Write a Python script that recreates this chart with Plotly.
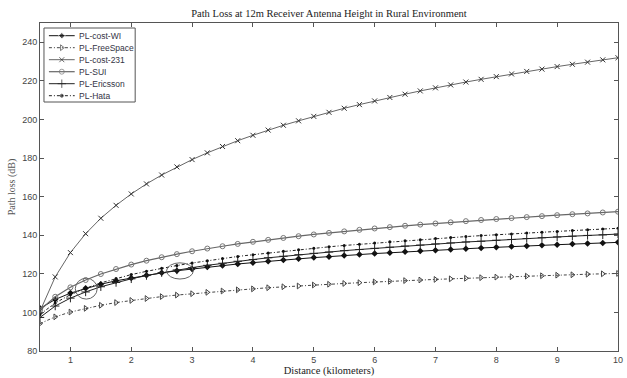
import plotly.graph_objects as go

# Distance (km)
distance = [0.5, 0.75, 1.0, 1.25, 1.5, 1.75, 2.0, 2.25, 2.5, 2.75, 3.0, 3.25, 3.5, 3.75,
            4.0, 4.25, 4.5, 4.75, 5.0, 5.25, 5.5, 5.75, 6.0, 6.25, 6.5, 6.75, 7.0, 7.25,
            7.5, 7.75, 8.0, 8.25, 8.5, 8.75, 9.0, 9.25, 9.5, 9.75, 10.0]

pl_cost_wi = [102.1, 106.7, 110.0, 112.5, 114.6, 116.4, 117.9, 119.3, 120.5, 121.6, 122.5, 123.5,
              124.3, 125.1, 125.8, 126.5, 127.2, 127.8, 128.4, 128.9, 129.5, 130.0, 130.5, 130.9,
              131.4, 131.8, 132.2, 132.6, 133.0, 133.4, 133.8, 134.1, 134.4, 134.8, 135.1, 135.4,
              135.7, 136.0, 136.3]
pl_freespace = [94.2, 97.7, 100.2, 102.1, 103.7, 105.1, 106.2, 107.2, 108.2, 109.0, 109.7, 110.4,
                111.1, 111.7, 112.2, 112.8, 113.3, 113.7, 114.2, 114.6, 115.0, 115.4, 115.8, 116.1,
                116.5, 116.8, 117.1, 117.4, 117.7, 118.0, 118.3, 118.5, 118.8, 119.0, 119.3, 119.5,
                119.8, 120.0, 120.2]
pl_cost_231 = [100.6, 118.4, 131.0, 140.8, 148.8, 155.5, 161.4, 166.6, 171.2, 175.4, 179.2, 182.7,
               186.0, 189.0, 191.8, 194.5, 197.0, 199.3, 201.6, 203.7, 205.8, 207.7, 209.6, 211.4,
               213.1, 214.8, 216.4, 217.9, 219.4, 220.8, 222.2, 223.6, 224.9, 226.1, 227.4, 228.6,
               229.7, 230.9, 232.0]
pl_sui = [101.2, 108.1, 113.0, 116.8, 119.9, 122.5, 124.8, 126.8, 128.6, 130.2, 131.7, 133.1,
          134.3, 135.5, 136.6, 137.6, 138.6, 139.5, 140.4, 141.2, 142.0, 142.8, 143.5, 144.2,
          144.9, 145.5, 146.1, 146.7, 147.3, 147.9, 148.4, 148.9, 149.4, 149.9, 150.4, 150.9,
          151.3, 151.8, 152.2]
pl_ericsson = [97.4, 103.3, 107.4, 110.6, 113.3, 115.5, 117.4, 119.1, 120.6, 122.0, 123.2, 124.4,
               125.5, 126.5, 127.4, 128.3, 129.1, 129.9, 130.6, 131.3, 132.0, 132.6, 133.2, 133.8,
               134.4, 134.9, 135.5, 136.0, 136.5, 136.9, 137.4, 137.8, 138.3, 138.7, 139.1, 139.5,
               139.9, 140.2, 140.6]
pl_hata = [98.9, 104.9, 109.2, 112.5, 115.3, 117.6, 119.6, 121.3, 122.9, 124.3, 125.6, 126.8,
           127.9, 129.0, 129.9, 130.8, 131.7, 132.5, 133.2, 134.0, 134.7, 135.3, 136.0, 136.6,
           137.2, 137.7, 138.3, 138.8, 139.3, 139.8, 140.3, 140.7, 141.2, 141.6, 142.0, 142.4,
           142.8, 143.2, 143.6]

series_names = ["PL-cost-WI", "PL-FreeSpace", "PL-cost-231", "PL-SUI", "PL-Ericsson", "PL-Hata"]

# Highlight ellipses: centre distance, centre loss, half width (km), half height (dB)
ellipse_d = [1.26, 2.80]
ellipse_pl = [112.3, 121.5]
ellipse_hw = [0.18, 0.22]
ellipse_hh = [5.4, 4.2]

x_ticks = [1, 2, 3, 4, 5, 6, 7, 8, 9, 10]
y_ticks = [80, 100, 120, 140, 160, 180, 200, 220, 240]

DASHDOT = "3px,2px,1px,2px"
styles = [
    (dict(color="#111111", width=1, dash="solid"),
     dict(symbol="diamond", size=5, color="#111111")),
    (dict(color="#444444", width=1, dash=DASHDOT),
     dict(symbol="triangle-right-open", size=5, color="#444444", line=dict(width=1, color="#444444"))),
    (dict(color="#666666", width=1, dash="solid"),
     dict(symbol="x-thin-open", size=5, color="#333333", line=dict(width=1, color="#333333"))),
    (dict(color="#666666", width=1.2, dash="solid"),
     dict(symbol="circle-open", size=5, color="#777777", line=dict(width=1, color="#777777"))),
    (dict(color="#222222", width=1, dash="solid"),
     dict(symbol="cross-thin-open", size=6, color="#222222", line=dict(width=1, color="#222222"))),
    (dict(color="#222222", width=1, dash=DASHDOT),
     dict(symbol="circle", size=3, color="#111111")),
]
values = [pl_cost_wi, pl_freespace, pl_cost_231, pl_sui, pl_ericsson, pl_hata]

W, H = 627, 378
ML, MR, MT, MB = 40, 4, 23, 27

fig = go.Figure()
for name, vals, (line, marker) in zip(series_names, values, styles):
    fig.add_trace(go.Scatter(x=distance, y=vals, name=name, mode="lines+markers",
                             line=line, marker=marker, showlegend=False))

for cd, cp, hw, hh in zip(ellipse_d, ellipse_pl, ellipse_hw, ellipse_hh):
    fig.add_shape(type="circle", xref="x", yref="y", x0=cd - hw, x1=cd + hw,
                  y0=cp - hh, y1=cp + hh, line=dict(color="#666666", width=1))

# ---- compact MATLAB-style legend (glyphs drawn on a pixel-scaled overlay axis) ----
leg_left, leg_right, leg_top, leg_bottom = 44, 136, 28, 102
row_y0, row_step = 35.7, 12.0
sample_x0, sample_x1, text_x = 49, 75, 77
for i, (line, marker) in enumerate(styles):
    ry = row_y0 + i * row_step
    m = dict(marker)
    m["size"] = [0, marker["size"], 0]
    fig.add_trace(go.Scatter(x=[sample_x0, (sample_x0 + sample_x1) / 2, sample_x1], y=[ry, ry, ry],
                             mode="lines+markers", line=line, marker=m,
                             xaxis="x2", yaxis="y2", showlegend=False, hoverinfo="skip"))
    fig.add_annotation(text=series_names[i], xref="x2", yref="y2", x=text_x, y=ry,
                       xanchor="left", yanchor="middle", showarrow=False,
                       font=dict(family="Liberation Sans, Arial, sans-serif", size=8.5, color="#333344"))
fig.add_shape(type="rect", xref="x2", yref="y2", x0=leg_left, x1=leg_right, y0=leg_top, y1=leg_bottom,
              line=dict(color="#555555", width=1))

axis_common = dict(showgrid=False, zeroline=False, showline=True, linecolor="#555555",
                   linewidth=1, mirror="ticks", ticks="inside", ticklen=4, tickcolor="#555555",
                   ticklabeloverflow="allow",
                   tickfont=dict(family="Liberation Sans, Arial, sans-serif", size=9, color="#444444"))

fig.update_layout(
    width=W, height=H,
    margin=dict(l=ML, r=MR, t=MT, b=MB),
    paper_bgcolor="white", plot_bgcolor="white",
    title=dict(text="Path Loss at 12m Receiver Antenna Height in Rural Environment",
               font=dict(family="Liberation Serif, Times New Roman, serif", size=10.5, color="#222222"),
               xref="paper", x=0.5, xanchor="center", y=0.966, yanchor="middle"),
    xaxis=dict(range=[0.5, 10.0001], tickvals=x_ticks,
               title=dict(text="Distance (kilometers)", standoff=0,
                          font=dict(family="Liberation Serif, Times New Roman, serif", size=10.5, color="#222222")),
               **axis_common),
    yaxis=dict(range=[80, 250], tickvals=y_ticks,
               title=dict(text="Path loss (dB)", standoff=4,
                          font=dict(family="Liberation Serif, Times New Roman, serif", size=10, color="#555555")),
               **axis_common),
    xaxis2=dict(overlaying="x", anchor="y2", range=[ML, W - MR], visible=False, fixedrange=True),
    yaxis2=dict(overlaying="y", anchor="x2", range=[H - MB, MT], visible=False, fixedrange=True),
    showlegend=False,
    hovermode=False,
)

fig.write_html("out.html", config={"displayModeBar": False, "staticPlot": True},
               post_script="document.body.style.margin='0';document.body.style.padding='0';")
